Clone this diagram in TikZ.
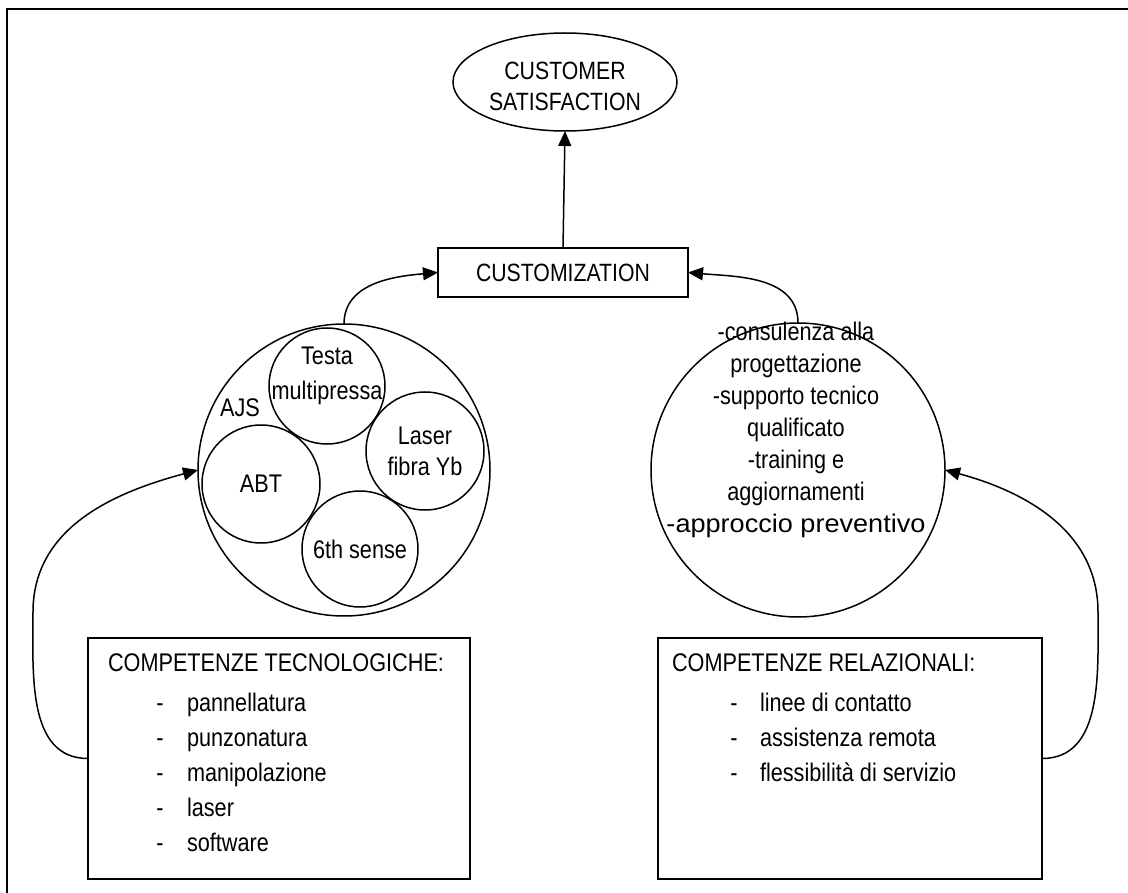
\documentclass[tikz,border=0pt]{standalone}
\usepackage{fontspec}
\usepackage{graphicx}
\setmainfont{Liberation Sans}[FakeStretch=0.85]
\usetikzlibrary{shapes.geometric,arrows.meta}
\begin{document}
\begin{tikzpicture}[x=1pt,y=-1pt,
  every node/.style={inner sep=0pt, outer sep=0pt},
  lbl/.style={font=\fontsize{25.5}{35}\selectfont, align=center},
  boxtxt/.style={font=\fontsize{25.5}{35}\selectfont, anchor=base west},
  dashtxt/.style={font=\fontsize{25.5}{35}\selectfont, anchor=base},
  outline/.style={draw, line width=1.5pt},
  ring/.style={outline, circle},
  arr/.style={-{Triangle[length=15pt,width=13pt]}, line width=1.5pt},
]
\useasboundingbox (0,0) rectangle (1128,893);
\fill[white] (0,0) rectangle (1128,893);
% page frame
\draw[line width=2pt] (1140,9) -- (7,9) -- (7,905);

% top goal and customization box
\node[outline, ellipse, minimum width=224pt, minimum height=98pt] (sat) at (565,82) {};
\node[align=center, font=\fontsize{25}{31}\selectfont] (satT) at (565,86) {CUSTOMER\\SATISFACTION};
\node[outline, rectangle, minimum width=250pt, minimum height=49pt, font=\fontsize{25}{30}\selectfont]
  (cust) at (563,272.5) {CUSTOMIZATION};

% technology cluster
\node[ring, minimum size=292pt] (lc) at (344,470) {};
\node[ring, minimum size=116pt] (testa) at (327,386) {};
\node[lbl] (testaT) at (327,376) {Testa\\multipressa};
\node[ring, minimum size=118pt, lbl, font=\fontsize{25.5}{31}\selectfont] (laser) at (425,451) {Laser\\fibra Yb};
\node[ring, minimum size=118pt, lbl] (abt) at (261,484) {ABT};
\node[ring, minimum size=116pt, lbl] (six) at (360,549) {6th sense};
\node[lbl] (ajs) at (240,408) {AJS};

% relational services circle
\node[ring, minimum size=294pt] (rc) at (798,470) {};
\node[align=center, font=\fontsize{25.5}{32}\selectfont] (rcT) at (796,430)
  {-consulenza alla\\progettazione\\-supporto tecnico\\qualificato\\-training e\\aggiornamenti\\\scalebox{1.25}[1]{-approccio preventivo}};

% competence boxes
\node[outline, rectangle, minimum width=382pt, minimum height=241pt] (lbox) at (279,758.5) {};
\node[outline, rectangle, minimum width=384pt, minimum height=241pt] (rbox) at (850,758.5) {};

\node[boxtxt] (lt) at (108,671) {COMPETENZE TECNOLOGICHE:};
\foreach \t [count=\i] in {pannellatura,punzonatura,manipolazione,laser,software}{
  \node[dashtxt] (ld\i) at (160,{676+35*\i}) {-};
  \node[boxtxt] (li\i) at (187,{676+35*\i}) {\t};
}
\node[boxtxt] (rt) at (672,671) {COMPETENZE RELAZIONALI:};
\foreach \t [count=\i] in {linee di contatto,assistenza remota,flessibilità di servizio}{
  \node[dashtxt] (rd\i) at (734,{676+35*\i}) {-};
  \node[boxtxt] (ri\i) at (760,{676+35*\i}) {\t};
}

% connectors
\draw[arr] (cust.north) -- (sat.south);
\draw[arr] (lc.north) to[out=90,in=185] (cust.west);
\draw[arr] (rc.north) to[out=90,in=-5] (cust.east);
\coordinate (lbend) at (33,612);
\coordinate (rbend) at (1098,612);
\draw[arr] (lbox.west) to[out=180,in=-90] (lbend) to[out=90,in=195] (lc.west);
\draw[arr] (rbox.east) to[out=0,in=-90] (rbend) to[out=90,in=-15] (rc.east);
\end{tikzpicture}
\end{document}
